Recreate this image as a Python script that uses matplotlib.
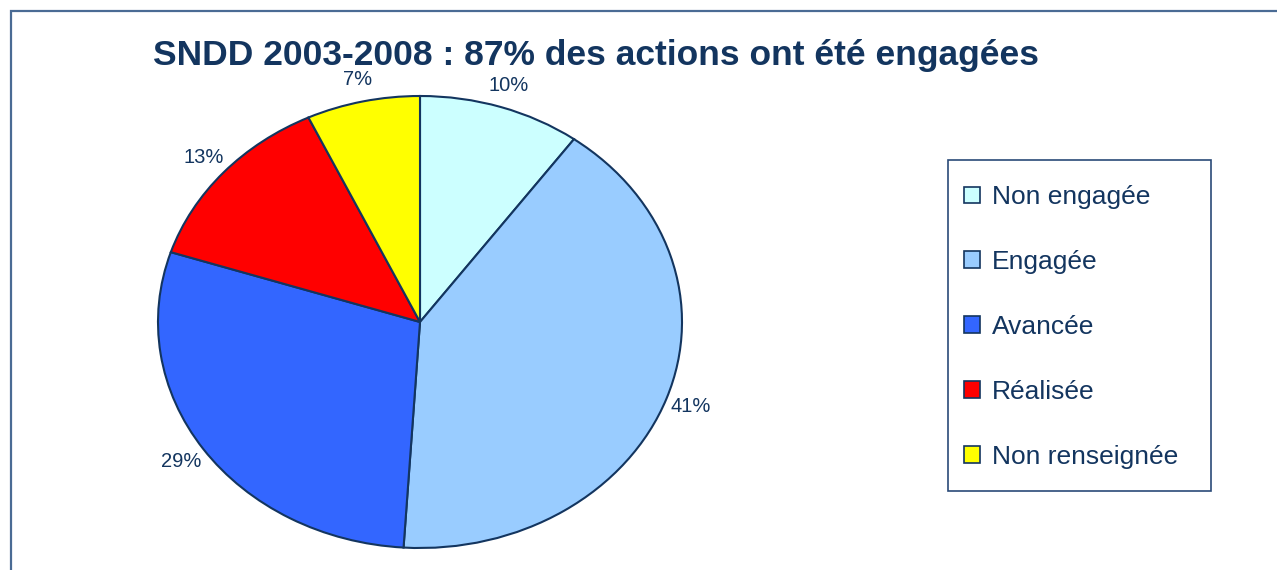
import matplotlib.pyplot as plt
from matplotlib.patches import Rectangle, Patch

# data
categories = ["Non engagée", "Engagée", "Avancée", "Réalisée", "Non renseignée"]
shares = [10, 41, 29, 13, 7]
colors = ["#CCFFFF", "#99CCFF", "#3366FF", "#FF0000", "#FFFF00"]
title = "SNDD 2003-2008 : 87% des actions ont été engagées"

navy = "#13355f"
plt.rcParams["font.family"] = ["Liberation Sans", "DejaVu Sans"]

fig = plt.figure(figsize=(12.77, 5.70), dpi=100)
W, H = 1277, 570

def fx(px):
    return px / W

def fy(py):
    return 1 - py / H

# outer frame (cut by the right and bottom edges)
fig.patches.append(Rectangle((fx(11), -0.1), 1.2, fy(11) + 0.1, transform=fig.transFigure,
                             fill=False, edgecolor="#4a6b94", lw=1.6))

# pie is an ellipse, so the axes box is stretched and aspect left free
ax = fig.add_axes([fx(158), fy(548), fx(682) - fx(158), fy(96) - fy(548)])
wedges, texts = ax.pie(shares, colors=colors, startangle=90, counterclock=False,
                       labels=[f"{s}%" for s in shares], labeldistance=1.1,
                       wedgeprops=dict(edgecolor=navy, linewidth=1.5),
                       textprops=dict(color=navy, fontsize=14.5))
for t in texts:
    t.set_ha("center")
    t.set_va("center")
ax.set_aspect("auto")
ax.set_xlim(-1, 1)
ax.set_ylim(-1, 1)
ax.axis("off")

fig.text(fx(596), fy(55), title, ha="center", va="center", fontsize=25.5,
         fontweight="bold", color=navy)

# legend box drawn by hand so it keeps the reference size
fig.patches.append(Rectangle((fx(948), fy(491)), fx(1211) - fx(948), fy(160) - fy(491),
                             transform=fig.transFigure, fill=False,
                             edgecolor="#2a4a78", lw=1.2))
handles = [Patch(facecolor=c, edgecolor=navy, lw=1.2) for c in colors]
leg = fig.legend(handles, categories, loc="upper left",
                 bbox_to_anchor=(fx(951), fy(172)), frameon=False,
                 fontsize=19, labelcolor=navy, handlelength=0.6, handleheight=0.6,
                 handletextpad=0.45, labelspacing=1.55, borderpad=0)

fig.savefig("out.png", dpi=100)
